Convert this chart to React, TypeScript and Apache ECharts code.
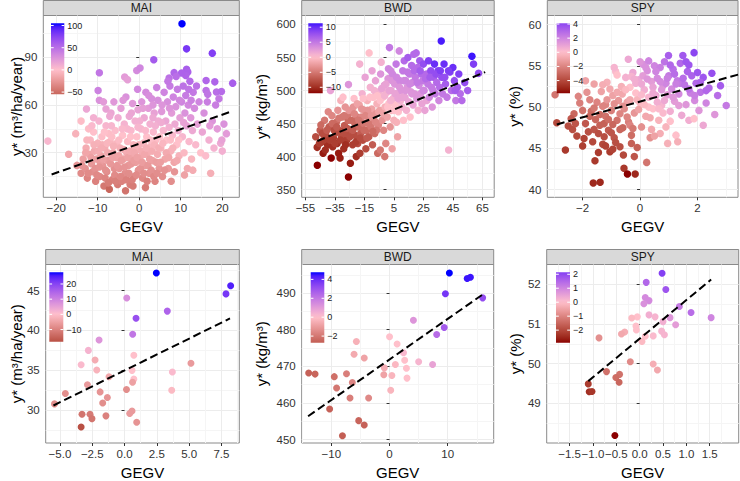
import React, { useEffect, useRef } from "react";
import * as echarts from "echarts";

// ---------------- DATA ----------------
const X_TITLE = "GEGV";
const PANEL_TITLES = ["MAI", "BWD", "SPY", "MAI", "BWD", "SPY"];
const Y_TITLES = ["y* (m³/ha/year)", "y* (kg/m³)", "y* (%)", "y* (m³/ha/year)", "y* (kg/m³)", "y* (%)"];

// [GEGV, y*, colour value]
const MAI_TOP_POINTS = [
  [10.3,111.2,105],[11.4,95.4,82],[17.6,92.7,78],[3.5,88.5,62],[-9.6,80.3,45],[-0.6,81.8,32],[0.2,83.3,35],[-3.5,77.6,22],[-2.8,76,20],[11.4,82.5,60],[11.7,80.8,58],[11.2,78.6,56],[8.4,80.4,55],[10.2,80.2,57],[7.2,77,48],[16.1,75.5,55],[18.2,74.6,56],[22.5,73.8,60],[18.6,68.2,50],[16.1,69.2,48],[16.5,66.8,46],[19.8,68.5,52],[-9.9,69.2,38],[-9.6,63,28],[-8,57.5,18],[-12.7,57.5,15],[-14,49.9,-2],[-15.3,42,-8],[-22,37.3,5],[-17,29,-15],[-15,22,-25],[-14,17,-32],
  [-13.5,26,-20],[-13,20,-28],[-12.8,33,-12],[-12.5,14,-36],[-12,29,-16],[-11.8,38,-5],[-11.5,23,-24],[-11.2,18,-30],[-11,43,0],[-10.8,31,-14],[-10.5,12,-38],[-10.3,26,-20],[-10,36,-8],[-13.8,22,-26],[-12.2,45,-2],[-11,52,10],[-10.6,20,-28],[-12.6,38,-6],
  [-9.5,15,-34],[-9.2,28,-18],[-9,40,-2],[-8.8,22,-25],[-8.5,9,-44],[-8.3,33,-12],[-8,47,6],[-7.8,18,-30],[-7.5,25,-22],[-7.2,7,-55],[-7,37,-6],[-6.8,55,16],[-6.5,13,-38],[-6.3,30,-15],[-6,20,-28],[-5.8,44,2],[-5.5,27,-18],[-5.2,10,-42],[-9.7,50,8],[-8.9,35,-9],[-7.3,42,-2],[-6.1,62,24],[-5.4,36,-6],[-9.4,24,-22],[-8.2,14,-36],[-7.6,30,-14],[-6.7,47,6],[-5.9,16,-32],[-5.1,52,12],[-9.9,31,-12],[-8.6,62,22],[-7.1,53,14],
  [-4.8,20,-26],[-4.6,33,-10],[-4.4,58,20],[-4.2,12,-38],[-4,41,0],[-3.8,26,-18],[-3.6,48,8],[-3.4,17,-30],[-3.2,65,28],[-3,30,-13],[-2.8,37,-4],[-2.6,22,-24],[-2.4,53,14],[-2.2,10,-40],[-2,44,4],[-1.8,28,-16],[-1.6,61,24],[-1.4,35,-6],[-1.2,15,-34],[-1,50,10],[-0.8,24,-20],[-0.6,40,0],[-0.4,70,34],[-0.2,19,-27],[-4.9,38,-3],[-3.9,63,25],[-2.9,45,5],[-1.9,55,16],[-0.9,32,-9],[-0.3,57,18],[-3.3,6,-46],[-1.5,9,-42],
  [0.2,27,-16],[0.4,45,6],[0.6,62,26],[0.8,14,-34],[1,36,-5],[1.2,52,14],[1.4,22,-22],[1.6,68,32],[1.8,40,0],[2,30,-12],[2.2,58,22],[2.4,17,-28],[2.6,48,10],[2.8,34,-6],[3,64,30],[3.2,25,-18],[3.4,43,4],[3.6,55,18],[3.8,12,-36],[4,38,-2],[4.2,71,38],[4.4,29,-12],[4.6,50,12],[4.8,20,-24],[0.9,58,20],[2.3,66,30],[3.3,60,26],[4.5,63,30],[1.5,8,-42],[3.9,47,10],[0.1,50,10],[2.7,38,-2],
  [5.2,33,-8],[5.4,56,24],[5.6,15,-30],[5.8,44,6],[6,68,36],[6.2,26,-16],[6.4,50,16],[6.6,38,0],[6.8,62,30],[7,20,-22],[7.2,46,10],[7.4,72,42],[7.6,31,-8],[7.8,55,22],[8,41,4],[8.2,65,36],[8.4,24,-16],[8.6,48,14],[8.8,59,28],[9,35,0],[9.2,70,42],[9.4,44,10],[9.6,28,-8],[9.8,52,20],[5.5,60,26],[6.9,75,44],[8.9,78,50],[7.7,12,-30],
  [10.2,62,36],[10.4,40,6],[10.6,72,48],[10.8,30,-4],[11,55,28],[11.2,66,42],[11.4,47,18],[11.6,20,-14],[11.8,60,34],[12,37,4],[12.2,75,52],[12.4,52,24],[12.6,26,-6],[12.8,44,14],[13,68,44],[13.3,58,32],[13.6,35,4],[14,48,20],[14.4,62,36],[14.8,30,0],[12.9,19,-12],[10.9,16,-18],
  [15.2,43,16],[15.6,55,30],[16,28,2],[16.4,62,40],[16.8,38,10],[17.2,17,-10],[17.6,50,26],[18,33,8],[18.4,60,40],[18.8,45,22],[19.2,64,44],[19.6,36,14],[20,31,10],[17,47,22],
  [20.4,48,28],[21,42,22],[19.9,38,18],
  [-12.3,17,-32],[-11.6,27,-19],[-10.9,35,-9],[-10.2,16,-33],[-9.6,21,-27],[-9.1,33,-11],[-8.7,26,-19],[-8.1,19,-29],[-7.7,36,-6],[-7.4,11,-41],[-6.9,23,-24],[-6.4,27,-18],[-6.2,34,-9],[-5.7,12,-39],[-5.3,22,-25],[-4.9,28,-17],[-4.5,15,-34],[-4.3,25,-21],[-3.7,32,-11],[-3.5,21,-26],[-3.1,13,-38],[-2.7,27,-18],[-2.5,17,-31],[-2.3,31,-13],[-1.9,23,-24],[-1.7,13,-38],[-1.3,25,-21],[-1.1,30,-14],[-0.7,16,-32],[-0.5,27,-18],[-0.1,35,-8],[0.3,20,-27],[0.5,31,-12],[0.7,24,-21],[1.1,17,-30],[1.3,29,-15],[1.7,33,-10],[1.9,12,-38],[2.1,22,-24],[2.5,26,-19],[2.9,19,-28],[3.1,31,-12],[3.5,15,-33],[3.7,35,-7],[4.1,24,-21],[4.3,17,-30],[4.7,33,-10],[4.9,40,0],[5.1,24,-20],[5.7,36,-5],[6.1,19,-27],[6.5,30,-13],[7.1,27,-16],[7.5,38,-2],[8.1,33,-8],[8.5,18,-26],[9.1,25,-14],[9.5,38,0],[-12.9,30,-16],[-11.4,47,4],[-8.4,43,0],[-6.6,40,-2],[-4.1,45,4],[-2.1,40,0],[-0.3,46,6],[1.5,44,4],[3.3,52,14],[5.3,49,12],[7.3,58,26],[9.7,63,34],[10.7,49,18],[12.5,63,38],[13.8,72,48],[11.9,70,46]
];
const MAI_TOP_LINE = [[-21.1, 16.3], [21.7, 55.5]];
const MAI_TOP_XTICKS = [-20, -10, 0, 10, 20];
const MAI_TOP_YTICKS = [30, 60, 90];
const MAI_TOP_LEGEND = [100, 50, 0, -50];

const BWD_TOP_POINTS = [
  [-48,430,-8],[-47,414,-10],[-46.9,387,-12],[-45,440,-7],[-44,422,-9],[-43,405,-11],[-42,455,-5],[-41,432,-8],[-40,418,-10],[-39,445,-7],[-38,500,2],[-37.5,398,-12],[-37,462,-4],[-36,428,-9],[-35.5,440,-8],[-44.5,448,-6],[-41.5,410,-10],[-39.5,468,-4],[-36.5,415,-10],[-42.5,425,-9],
  [-34,452,-6],[-33.5,420,-10],[-33,470,-3],[-32.5,405,-11],[-32,440,-7],[-31,485,-1],[-30.5,430,-8],[-30,460,-5],[-29,412,-10],[-28.5,447,-7],[-28,475,-3],[-27,425,-9],[-26,455,-6],[-25.8,509,3],[-25.8,369,-12],[-24.5,390,-11],[-24,440,-7],[-23.5,468,-4],[-23,418,-9],[-22,488,0],[-21.5,450,-6],[-21,432,-8],[-20.5,400,-10],[-34.5,436,-8],[-31.5,398,-11],[-29.5,490,0],[-27.5,435,-8],[-26.5,462,-5],[-22.5,475,-3],[-20,460,-5],
  [-19.5,420,-8],[-19,445,-6],[-18.5,478,-2],[-18,405,-9],[-17.5,435,-7],[-17,460,-4],[-16.5,495,1],[-16,425,-8],[-15.5,450,-5],[-15,470,-3],[-14.5,520,2],[-14,412,-8],[-13.5,440,-6],[-13,485,-1],[-12.5,460,-4],[-12,430,-7],[-11.8,557,0],[-11,505,1],[-10.5,445,-5],[-10,472,-2],[-9.5,418,-7],[-9,490,0],[-8.5,455,-4],[-8,435,-6],[-7.5,515,2],[-7,465,-3],[-6.5,480,-1],[-6,405,-6],[-5.5,448,-4],[-5,498,1],[-18.2,540,1],[-15.8,488,0],[-12.8,470,-3],[-9.8,530,2],[-6.8,440,-5],
  [-4.5,470,-2],[-4,525,3],[-3.6,543,1],[-3,455,-3],[-2.5,490,0],[-2,440,-4],[-1.5,508,2],[-1,475,-1],[-0.5,420,-4],[0,497,1],[0.5,460,-2],[1,518,3],[1.3,533,4],[1.5,480,0],[2,565,5],[2.5,445,-3],[3,500,2],[3.5,470,-1],[4,525,4],[4.5,488,1],[5,455,-1],[5.5,510,3],[6,478,0],[6.5,540,5],[7,495,2],[7.5,430,-2],[8,468,0],[8.6,560,4],[9,515,4],[9.5,485,1],[-4.2,410,-5],[-1.2,400,-5],[3.8,412,-2],[6.8,452,-1],[2.8,530,4],
  [10,500,3],[10.5,475,1],[11,530,5],[11.5,455,0],[12,545,6],[12.5,490,2],[13,515,4],[13.5,470,1],[14,505,3],[14.5,550,7],[15,483,2],[15.5,525,5],[16,460,0],[16.5,498,3],[17,538,6],[17.5,512,4],[18,478,2],[18.5,555,6],[19,495,3],[19.5,520,5],[20.1,557,6],[20.5,488,3],[21,535,6],[21.5,470,1],[22,508,4],[22.5,545,7],[23,495,3],[23.5,525,6],[24,480,2],[24.5,515,5],
  [25,540,8],[25.5,500,4],[26,470,2],[27.3,485,2],[27,525,6],[28,510,5],[28.5,545,9],[29,490,4],[30,530,8],[30.5,505,5],[31,475,3],[32,520,7],[32.5,540,10],[33,495,5],[34,512,6],[35,530,9],[35.5,485,4],[36,505,6],[37.1,575,11],[37.5,520,8],[38,495,5],[39,540,10],[40,510,7],[41,490,5],[42.1,410,1],
  [43,528,9],[44,500,6],[45,535,10],[46,515,8],[47,485,5],[48,505,7],[49,525,9],[50,495,6],[51.1,485,6],[53,512,8],[57.9,552,11.3],[59,540,9],[62.4,526,8],[55,500,7],
  [-45.5,420,-9],[-43.5,435,-8],[-40.5,440,-7],[-38.5,425,-9],[-36.8,450,-6],[-35,420,-9],[-33.8,445,-7],[-32.3,458,-5],[-31.2,425,-9],[-29.8,438,-8],[-28.8,462,-5],[-27.8,418,-10],[-26.8,443,-7],[-25.5,470,-3],[-24.8,430,-8],[-23.8,455,-6],[-22.8,440,-7],[-21.8,465,-4],[-20.8,422,-9],[-19.8,480,-2],[-18.8,455,-5],[-17.8,428,-8],[-16.8,472,-3],[-15.3,440,-6],[-14.3,462,-4],[-13.3,428,-7],[-12.3,450,-5],[-11.3,490,0],[-10.3,462,-3],[-9.3,438,-6],[-8.3,500,1],[-7.3,452,-4],[-6.3,492,0],[-5.3,468,-2],[-4.3,485,0],[-3.3,503,2],[-2.3,465,-2],[-1.3,492,1],[-0.3,510,2],[0.8,475,0],[1.8,500,2],[2.8,485,1],[3.8,515,3],[4.8,470,0],[5.8,495,2],[6.8,520,4],[7.8,488,2],[8.8,505,3],[10.8,490,2],[11.8,515,4],[12.8,500,3],[14.2,528,5],[15.8,510,4],[17.2,495,3],[18.8,530,6],[20.8,512,5],[22.8,530,7],[24.8,500,4],[26.5,518,6],[29.5,520,7],[31.5,500,5],[33.5,525,8],[36.5,530,9],[39.5,520,8],[42,530,9],[46.5,500,7]
];
const BWD_TOP_LINE = [[-46.9, 423.6], [66.9, 527.9]];
const BWD_TOP_XTICKS = [-55, -35, -15, 5, 25, 45, 65];
const BWD_TOP_YTICKS = [350, 400, 450, 500, 550, 600];
const BWD_TOP_LEGEND = [10, 5, 0, -5, -10];

const SPY_TOP_POINTS = [
  [-2.9,48.1,-4],[-2.6,44.8,-4.5],[-2.96,51.5,-2.5],[-2.5,47.7,-3.8],[-2.3,49.2,-3],[-2.2,46.5,-4],[-2.1,50.5,-2.2],[-2,45.3,-4.3],[-1.9,48,-3.5],[-1.85,51.8,-1.5],[-1.8,47,-3.8],[-1.7,49.5,-2.8],[-1.65,45.8,-4],[-1.6,52.8,-1],[-1.57,43.5,-4.5],[-1.63,40.8,-5],[-1.55,48.5,-3],[-1.5,50.6,-2],[-2.4,48.6,-3.4],[-2.15,51.3,-2],[-1.95,46.2,-4.2],[-1.75,50.9,-2],[-2.35,47.3,-3.8],[-1.6,47.3,-3.6],[-1.9,53.2,-1],
  [-1.45,46.8,-3.8],[-1.4,49.1,-2.8],[-1.39,40.9,-5],[-1.35,51.9,-1],[-1.3,45.5,-4],[-1.25,48,-3.2],[-1.2,50.3,-2],[-1.15,53,-0.5],[-1.1,47.2,-3.4],[-1.05,44.6,-4.4],[-1,49.6,-2.2],[-0.95,51.4,-1],[-0.9,46.3,-3.6],[-0.85,54.3,0.2],[-0.8,48.4,-2.6],[-0.75,50.8,-1.4],[-0.7,45.2,-3.8],[-0.65,52.5,-0.5],[-0.6,47.5,-3],[-0.56,42.6,-4.5],[-0.55,49.8,-1.8],[-0.5,53.6,0.5],[-1.3,52.7,-0.6],[-1.15,50.9,-1.4],[-0.95,47.9,-3],[-0.85,45.7,-3.8],[-0.7,49.2,-2],[-0.62,51.6,-0.8],[-1.45,44.5,-4.4],[-1.25,46.4,-3.8],[-0.8,53.9,0],[-1.05,52.2,-0.8],[-0.58,44.2,-4],[-0.9,54.8,0.4],[-1.2,48.9,-2.6],
  [-0.44,41.9,-5.8],[-0.45,50.6,-1],[-0.41,55.8,0.8],[-0.4,48.2,-2.2],[-0.35,52.4,0],[-0.3,46.6,-2.8],[-0.25,54.2,0.8],[-0.2,49.3,-1.4],[-0.17,41.9,-5],[-0.15,51.7,0],[-0.1,45.1,-3.2],[-0.05,53.3,0.8],[0,50.5,-0.2],[0.05,47.6,-1.6],[0.1,55.2,1.6],[0.15,52.1,0.6],[0.2,48.9,-0.8],[0.23,43.3,-2.5],[0.25,54.4,1.6],[0.3,51.2,0.4],[0.35,46.3,-1.6],[0.4,53.1,1.2],[0.45,49.8,0],[0.5,55,2],[-0.3,53.7,0.4],[-0.1,50.9,-0.4],[0.1,53.8,1.2],[0.3,50,0],[0.45,52.4,1],[-0.35,47.8,-2],[0.2,54.8,1.6],[0.05,51.5,0.2],[-0.2,44,-3.6],[0.4,47.3,-0.8],[0,55.5,1.4],
  [0.55,51.4,0.8],[0.6,53.5,1.8],[0.65,48.4,-0.4],[0.7,54.8,2.2],[0.75,50.2,0.4],[0.8,52.6,1.6],[0.85,55.5,2.6],[0.9,47.6,-0.4],[0.95,51.5,1.2],[0.96,45.6,-0.5],[0.99,56.25,3.3],[1,53.8,2.4],[1.05,49.5,0.6],[1.1,52.2,1.8],[1.15,54.6,2.8],[1.2,50.7,1.2],[1.25,46.6,0],[1.3,53.2,2.4],[1.31,45.8,-0.5],[1.35,51.6,1.8],[1.4,55.3,3],[1.45,49,0.8],[1.49,56.25,3.5],[0.6,50.6,0.6],[0.8,49.3,0.2],[1.2,54,2.8],[1.4,52.9,2.4],[0.7,46.8,-0.6],[1.05,55.1,3],[0.9,52.9,2],
  [1.55,52.7,2.6],[1.6,50.3,1.4],[1.65,54.3,3.2],[1.7,48.4,0.6],[1.75,51.7,2.2],[1.8,53.8,3.2],[1.88,56.6,4.1],[1.88,48.6,0],[1.9,50.8,1.8],[1.95,52.9,3],[2,54.2,3.6],[2.05,49.6,1.4],[2.1,51.8,2.6],[2.2,53.6,3.6],[2.3,50.5,2],[2.4,52.3,3],[2.5,54.1,3.8],[2.6,49.1,1.4],[2.7,51.4,2.8],[2.8,52.6,3.4],[3,50.2,2.4],[3.46,51.6,3.5],[3.43,50.7,3],[2.2,47.8,0.8],[1.6,55.5,3.6],
  [-1.4,47.8,-3.2],[-1.3,50.1,-2],[-1.1,48.5,-2.8],[-1,46.9,-3.6],[-0.9,50.4,-1.6],[-0.8,51.8,-0.8],[-0.7,47.3,-3],[-0.6,50.1,-1.6],[-0.5,52.1,-0.2],[-0.45,48.8,-2],[-0.35,50.9,-0.8],[-0.25,47.4,-2.4],[-0.15,52.9,0.6],[-0.05,49.7,-1],[0.05,52.8,0.8],[0.15,50.3,-0.2],[0.25,53.4,1.4],[0.35,48.7,-0.8],[0.45,51.7,0.8],[0.55,54.3,2],[0.65,49.8,0.2],[0.75,52.1,1.4],[0.85,50.8,0.8],[0.95,53.5,2.2],[1.05,48.3,0],[1.15,51.2,1.4],[1.25,52.8,2.2],[1.35,50.2,1.2],[1.5,53.5,2.8],[1.7,52.2,2.6],[1.9,51.4,2.2],[2.1,53,3.2],[2.3,52,3],[-1.6,49.9,-2.4],[-1.75,48.9,-3],[-2,49.6,-2.6],[-2.25,48,-3.6],[-1.2,45.3,-4.2],[-0.95,44.9,-4.2],[-0.3,45.6,-3.2],[0.5,46.5,-1],[0.7,53.1,1.8],[-0.2,53.4,0.6],[0.3,55.6,2],[1.7,55.1,3.6]
];
const SPY_TOP_LINE = [[-2.9, 47.9], [3.43, 53.95]];
const SPY_TOP_XTICKS = [-2, 0, 2];
const SPY_TOP_YTICKS = [40, 45, 50, 55, 60];
const SPY_TOP_LEGEND = [4, 2, 0, -2, -4];

const MAI_BOT_POINTS = [
  [2.46,47.19,27.7],[8.21,45.6,25],[7.85,44.58,22],[0.17,44.06,8],[3.31,42.42,15],[0.89,41.53,18],[0.63,39.53,12],[-1.97,38.8,7],[-2.8,37.5,2],[-2.28,36.3,-3],[-3.36,35.7,1],[-2.15,35.05,-2],
  [0.72,36.9,0],[0.58,35.0,0],[0.72,33.9,0],[0.62,33.5,-5],[0.15,32.6,-8],[-1.2,34.2,-4],[-2.87,33.2,-6],[-1.89,32.3,-7],[-4.58,32.1,-8],[-1.33,31.6,-7],[-1.69,30.9,-8],[-5.42,30.8,-8],
  [-3.29,29.5,-12],[-2.67,29.5,-11],[-2.52,28.95,-12],[-1.44,29.3,-10],[-3.36,27.9,-18],[0.58,29.9,-6],[0.4,29.6,-6],[0.94,28.5,-7],[3.65,32.5,-1],[3.7,34.8,1],[5.14,35.9,-6]
];
const MAI_BOT_LINE = [[-5.5, 30.6], [8.16, 41.5]];
const MAI_BOT_XTICKS = [-5, -2.5, 0, 2.5, 5, 7.5];
const MAI_BOT_YTICKS = [30, 35, 40, 45];
const MAI_BOT_LEGEND = [20, 10, 0, -10];

const BWD_BOT_POINTS = [
  [10.28,495.5,4.75],[13.34,494.0,4.5],[13.9,494.3,4.5],[9.6,489.8,3.8],[16.0,488.7,3.2],[9.4,480.6,2.8],[8.1,478.7,2.3],[4.1,482.6,1.2],[7.4,470.5,0.8],[5.0,471.25,0.3],[2.4,473.7,0.2],[2.6,471.7,0],
  [2.9,469.5,0],[3.0,466.8,0],[1.3,476.1,0],[0.0,478.1,0],[1.0,470.5,-0.2],[0.4,467.5,-0.3],[0.2,463.5,-0.3],[-0.9,469.6,-0.5],[-0.99,467.7,-0.8],[-5.7,476.8,-0.4],[-6.1,473.3,-0.6],[-4.35,472.3,-0.8],
  [-6.4,465.6,-1.6],[-6.8,461.4,-1.8],[-7.4,468.0,-1.8],[-9.5,467.2,-2.2],[-9.1,464.1,-2],[-3.6,461.4,-1.5],[-13.9,468.2,-2.6],[-12.8,467.9,-2.5],[-10.3,458.4,-2.6],[-5.3,455.2,-2.5],[-4.35,454.0,-2.6],[-8.1,451.1,-2.7]
];
const BWD_BOT_LINE = [[-14, 456.4], [15.9, 489.5]];
const BWD_BOT_XTICKS = [-10, 0, 10];
const BWD_BOT_YTICKS = [450, 460, 470, 480, 490];
const BWD_BOT_LEGEND = [4, 2, 0, -2];

const SPY_BOT_POINTS = [
  [0.48,52.28,2.14],[0.14,52.05,1.5],[0.56,51.87,1.8],[0.12,51.67,0.9],[0.2,51.59,0.9],[0.09,51.51,0.8],[0.85,51.44,1.2],[1.1,51.29,1.4],[1.53,51.16,1.0],[0.65,51.16,0.7],[0.77,50.98,0.6],[0.2,51.23,0.3],
  [0.33,51.18,0.2],[-0.05,51.18,0],[-0.17,51.15,-0.1],[-0.08,50.95,0],[-0.07,50.85,0],[0.5,51.06,0.3],[0.47,50.82,0.2],[0.53,50.73,0.2],[0.29,50.7,0.1],[0.12,50.69,0],[0.05,50.56,-0.1],[-0.32,50.8,-0.3],
  [-0.39,50.75,-0.4],[-0.87,50.65,-0.8],[-0.2,50.05,-0.9],[0.29,49.99,-0.3],[0.38,49.84,-0.4],[-0.71,49.8,-1.3],[-0.43,49.73,-1.3],[-0.51,49.65,-1.4],[-0.44,49.53,-1.5],[-1.1,49.49,-2.2],[-1.08,49.29,-2.4],[-1.02,49.3,-2.3],[-0.53,48.19,-2.9]
];
const SPY_BOT_LINE = [[-1.1, 49.56], [1.53, 52.12]];
const SPY_BOT_XTICKS = [-1.5, -1, -0.5, 0, 0.5, 1, 1.5];
const SPY_BOT_YTICKS = [49, 50, 51, 52];
const SPY_BOT_LEGEND = [2, 1, 0, -1, -2];

// ---------------- LAYOUT ----------------
const FONT = "'Liberation Sans', Arial, Helvetica, sans-serif";
const PANELS = [
  { points: MAI_TOP_POINTS, line: MAI_TOP_LINE, xt: MAI_TOP_XTICKS, yt: MAI_TOP_YTICKS, leg: MAI_TOP_LEGEND,
    grid: { left: 43.3, top: 15.5, width: 196, height: 181.8 }, xr: [-23.1, 24.1], yr: [1.9, 116.4],
    bar: { x: 51, y: 23.3, w: 13.3, h: 71 }, xd: 0, yGap: 19, size: 7.5 },
  { points: BWD_TOP_POINTS, line: BWD_TOP_LINE, xt: BWD_TOP_XTICKS, yt: BWD_TOP_YTICKS, leg: BWD_TOP_LEGEND,
    grid: { left: 301.7, top: 15.5, width: 192.5, height: 181.8 }, xr: [-57.5, 73], yr: [338.4, 613.6],
    bar: { x: 308.3, y: 23.3, w: 14.4, h: 70 }, xd: 0, yGap: 33, size: 7.5 },
  { points: SPY_TOP_POINTS, line: SPY_TOP_LINE, xt: SPY_TOP_XTICKS, yt: SPY_TOP_YTICKS, leg: SPY_TOP_LEGEND,
    grid: { left: 547.3, top: 15.5, width: 190.7, height: 181.8 }, xr: [-3.23, 3.41], yr: [39.07, 61.1],
    bar: { x: 556.7, y: 23.3, w: 13.3, h: 70 }, xd: 0, yGap: 25, size: 7.5 },
  { points: MAI_BOT_POINTS, line: MAI_BOT_LINE, xt: MAI_BOT_XTICKS, yt: MAI_BOT_YTICKS, leg: MAI_BOT_LEGEND,
    grid: { left: 45.7, top: 264.5, width: 193.6, height: 182 }, xr: [-6.1, 8.88], yr: [25.9, 48.26],
    bar: { x: 49.3, y: 272.3, w: 14, h: 69.4 }, xd: 1, yGap: 22, size: 7 },
  { points: BWD_BOT_POINTS, line: BWD_BOT_LINE, xt: BWD_BOT_XTICKS, yt: BWD_BOT_YTICKS, leg: BWD_BOT_LEGEND,
    grid: { left: 301.7, top: 264.5, width: 192, height: 181.8 }, xr: [-15.1, 17.9], yr: [449.1, 497.8],
    bar: { x: 310.7, y: 272.3, w: 13.6, h: 70.4 }, xd: 0, yGap: 33, size: 7 },
  { points: SPY_BOT_POINTS, line: SPY_BOT_LINE, xt: SPY_BOT_XTICKS, yt: SPY_BOT_YTICKS, leg: SPY_BOT_LEGEND,
    grid: { left: 546.7, top: 264.5, width: 192, height: 181.8 }, xr: [-1.99, 2.12], yr: [48.0, 52.5],
    bar: { x: 556, y: 272.3, w: 14, h: 70.4 }, xd: 1, yGap: 24, size: 7 },
];

// ---------------- COLOUR (Lab interpolation, like ggplot gradient2) ----------------
const LOW = "#8B0000", MID = "#FFC0CB", HIGH = "#0000FF";
const WX = 0.95047, WY = 1, WZ = 1.08883;
function hex2rgb(h: string) { const n = parseInt(h.slice(1), 16); return [(n >> 16) & 255, (n >> 8) & 255, n & 255]; }
function toLin(c: number) { c /= 255; return c <= 0.04045 ? c / 12.92 : Math.pow((c + 0.055) / 1.055, 2.4); }
function fromLin(c: number) { const v = c <= 0.0031308 ? 12.92 * c : 1.055 * Math.pow(Math.max(c, 0), 1 / 2.4) - 0.055; return Math.round(Math.max(0, Math.min(1, v)) * 255); }
function rgb2lab(rgb: number[]) {
  const [R, G, B] = rgb.map(toLin);
  const X = (0.4124 * R + 0.3576 * G + 0.1805 * B) / WX;
  const Y = (0.2126 * R + 0.7152 * G + 0.0722 * B) / WY;
  const Z = (0.0193 * R + 0.1192 * G + 0.9505 * B) / WZ;
  const f = (t: number) => (t > 0.008856 ? Math.cbrt(t) : 7.787 * t + 16 / 116);
  const fx = f(X), fy = f(Y), fz = f(Z);
  return [116 * fy - 16, 500 * (fx - fy), 200 * (fy - fz)];
}
function lab2css(L: number, a: number, b: number) {
  const fy = (L + 16) / 116, fx = fy + a / 500, fz = fy - b / 200;
  const fi = (t: number) => { const t3 = t * t * t; return t3 > 0.008856 ? t3 : (t - 16 / 116) / 7.787; };
  const X = WX * fi(fx), Y = WY * fi(fy), Z = WZ * fi(fz);
  const R = 3.2406 * X - 1.5372 * Y - 0.4986 * Z;
  const G = -0.9689 * X + 1.8758 * Y + 0.0415 * Z;
  const B = 0.0557 * X - 0.204 * Y + 1.057 * Z;
  return `rgb(${fromLin(R)},${fromLin(G)},${fromLin(B)})`;
}
const LABS = [LOW, MID, HIGH].map((h) => rgb2lab(hex2rgb(h)));
function colorAt(t: number) {
  t = Math.max(0, Math.min(1, t));
  let A: number[], B: number[], s: number;
  if (t < 0.5) { A = LABS[0]; B = LABS[1]; s = t / 0.5; } else { A = LABS[1]; B = LABS[2]; s = (t - 0.5) / 0.5; }
  return lab2css(A[0] + (B[0] - A[0]) * s, A[1] + (B[1] - A[1]) * s, A[2] + (B[2] - A[2]) * s);
}
const RAMP = Array.from({ length: 41 }, (_, i) => colorAt(i / 40));

function fmt(v: number, d: number) { return v.toFixed(d).replace("-", "\u2212"); }
function minors(t: number[], lo: number, hi: number) {
  const out: number[] = [];
  const step = t[1] - t[0];
  const all = [t[0] - step / 2, ...t.slice(0, -1).map((v, i) => (v + t[i + 1]) / 2), t[t.length - 1] + step / 2];
  all.forEach((v) => { if (v > lo && v < hi) out.push(v); });
  return out;
}

function buildOption() {
  const grid: any[] = [], xAxis: any[] = [], yAxis: any[] = [], series: any[] = [], visualMap: any[] = [], graphic: any[] = [];
  PANELS.forEach((p, i) => {
    grid.push({ ...p.grid, show: true, backgroundColor: "#ffffff", borderColor: "#8a8a8a", borderWidth: 1 });
    const tickStyle = { show: true, length: 3, inside: false, lineStyle: { color: "#333333", width: 1 } };
    xAxis.push({
      gridIndex: i, type: "value", min: p.xr[0], max: p.xr[1], position: "bottom",
      axisLine: { show: false },
      axisTick: { ...tickStyle, customValues: p.xt },
      axisLabel: { customValues: p.xt, formatter: (v: number) => fmt(v, p.xd), fontSize: 11.5, color: "#333333", margin: 5, fontFamily: FONT },
      splitLine: { show: true, lineStyle: { color: "#ececec", width: 1 } },
      name: X_TITLE, nameLocation: "middle", nameGap: 22, nameMoveOverlap: false,
      nameTextStyle: { fontSize: 15, color: "#000000", fontFamily: FONT },
    });
    xAxis.push({
      gridIndex: i, type: "value", min: p.xr[0], max: p.xr[1], position: "bottom",
      axisLine: { show: false }, axisLabel: { show: false },
      axisTick: { show: false, customValues: minors(p.xt, p.xr[0], p.xr[1]) },
      splitLine: { show: true, lineStyle: { color: "#f5f5f5", width: 1 } },
    });
    yAxis.push({
      gridIndex: i, type: "value", min: p.yr[0], max: p.yr[1], position: "left",
      axisLine: { show: false },
      axisTick: { ...tickStyle, customValues: p.yt },
      axisLabel: { customValues: p.yt, formatter: (v: number) => fmt(v, 0), fontSize: 11.5, color: "#333333", margin: 6, fontFamily: FONT },
      splitLine: { show: true, lineStyle: { color: "#ececec", width: 1 } },
      name: Y_TITLES[i], nameLocation: "middle", nameGap: p.yGap, nameRotate: 90, nameMoveOverlap: false,
      nameTextStyle: { fontSize: 15, color: "#000000", fontFamily: FONT },
    });
    yAxis.push({
      gridIndex: i, type: "value", min: p.yr[0], max: p.yr[1], position: "left",
      axisLine: { show: false }, axisLabel: { show: false },
      axisTick: { show: false, customValues: minors(p.yt, p.yr[0], p.yr[1]) },
      splitLine: { show: true, lineStyle: { color: "#f5f5f5", width: 1 } },
    });
    series.push({
      type: "scatter", xAxisIndex: 2 * i, yAxisIndex: 2 * i, data: p.points, symbol: "circle", symbolSize: p.size,
      itemStyle: { opacity: 1 }, silent: true, z: 2,
    });
    series.push({
      type: "line", xAxisIndex: 2 * i, yAxisIndex: 2 * i, data: p.line, symbol: "none", silent: true, z: 3,
      lineStyle: { color: "#000000", width: 2, type: [8, 4] },
    });
    const cs = p.points.map((d) => d[2]);
    const lo = Math.min(...cs), hi = Math.max(...cs);
    const M = Math.max(Math.abs(lo), Math.abs(hi));
    visualMap.push({ type: "continuous", show: false, seriesIndex: 2 * i, dimension: 2, min: -M, max: M, inRange: { color: RAMP } });

    // strip
    const g = p.grid;
    graphic.push({ type: "rect", shape: { x: g.left, y: g.top - 15, width: g.width, height: 15 }, style: { fill: "#d9d9d9", stroke: "#8a8a8a", lineWidth: 1 }, silent: true });
    graphic.push({ type: "text", x: g.left + g.width / 2, y: g.top - 7.5, style: { text: PANEL_TITLES[i], fill: "#1a1a1a", font: `12px ${FONT}`, align: "center", verticalAlign: "middle" }, silent: true });

    // colour bar legend
    const b = p.bar;
    const stops = Array.from({ length: 21 }, (_, k) => {
      const v = hi - ((hi - lo) * k) / 20;
      return { offset: k / 20, color: colorAt(0.5 + v / (2 * M)) };
    });
    graphic.push({ type: "rect", z: 10, shape: { x: b.x, y: b.y, width: b.w, height: b.h }, style: { fill: { type: "linear", x: 0, y: 0, x2: 0, y2: 1, colorStops: stops } }, silent: true });
    p.leg.forEach((v) => {
      const ty = b.y + ((hi - v) / (hi - lo)) * b.h;
      graphic.push({ type: "line", z: 11, shape: { x1: b.x, y1: ty, x2: b.x + b.w / 5, y2: ty }, style: { stroke: "#ffffff", lineWidth: 1 }, silent: true });
      graphic.push({ type: "line", z: 11, shape: { x1: b.x + b.w - b.w / 5, y1: ty, x2: b.x + b.w, y2: ty }, style: { stroke: "#ffffff", lineWidth: 1 }, silent: true });
      graphic.push({ type: "text", z: 11, x: b.x + b.w + 3, y: ty, style: { text: fmt(v, 0), fill: "#1a1a1a", font: `9px ${FONT}`, align: "left", verticalAlign: "middle" }, silent: true });
    });
  });
  return { animation: false, backgroundColor: "#ffffff", textStyle: { fontFamily: FONT }, grid, xAxis, yAxis, series, visualMap, graphic };
}

export default function App() {
  const ref = useRef<HTMLDivElement>(null);
  useEffect(() => {
    if (!ref.current) return;
    const chart = echarts.init(ref.current, undefined, { renderer: "svg" });
    chart.setOption(buildOption() as any);
    return () => chart.dispose();
  }, []);
  return <div ref={ref} style={{ position: "fixed", left: 0, top: 0, width: 740, height: 481 }} />;
}
